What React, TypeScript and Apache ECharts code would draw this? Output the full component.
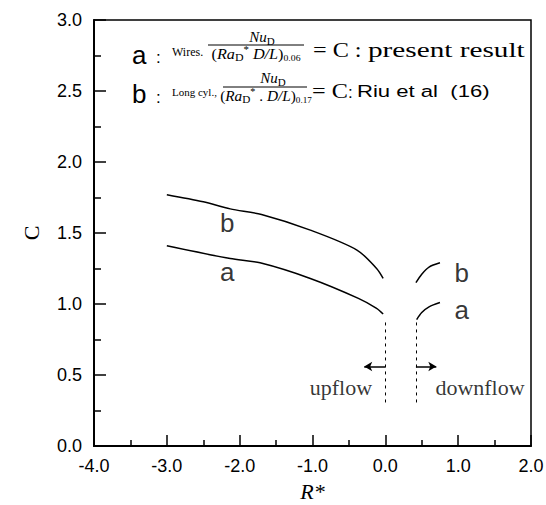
import React, { useEffect, useRef } from 'react';
import * as echarts from 'echarts';

// ---- data ----
const curveAUpflow: number[][] = [[-3.0, 1.41], [-2.13, 1.32], [-1.72, 1.29], [-1.03, 1.18], [-0.37, 1.04], [-0.12, 0.97], [-0.03, 0.93]];
const curveBUpflow: number[][] = [[-3.0, 1.77], [-2.5, 1.72], [-2.13, 1.67], [-1.70, 1.63], [-1.03, 1.52], [-0.39, 1.38], [-0.12, 1.25], [-0.03, 1.18]];
const curveADownflow: number[][] = [[0.43, 0.89], [0.50, 0.94], [0.60, 0.98], [0.75, 1.01]];
const curveBDownflow: number[][] = [[0.42, 1.15], [0.50, 1.21], [0.60, 1.26], [0.75, 1.29]];
const dividerXs: number[] = [0.0, 0.42];
const dividerRange: number[] = [0.30, 0.87];
const arrowY = 0.56;
const arrowUp: number[] = [0.0, -0.29];
const arrowDown: number[] = [0.42, 0.70];
const curveLabels = [
  { name: 'b', value: [-2.17, 1.57] },
  { name: 'a', value: [-2.17, 1.225] },
  { name: 'b', value: [1.05, 1.22] },
  { name: 'a', value: [1.05, 0.96] },
];
const flowLabels = [
  { name: 'upflow', value: [-0.61, 0.41] },
  { name: 'downflow', value: [1.30, 0.41] },
];
const xRange = [-4, 2];
const yRange = [0, 3];

const SANS = '"Liberation Sans", Arial, sans-serif';
const SERIF = '"Liberation Serif", "Times New Roman", serif';

const fracRich = {
  i: { fontFamily: SERIF, fontStyle: 'italic', fontSize: 15, lineHeight: 18, fill: '#000', color: '#000' },
  r: { fontFamily: SERIF, fontSize: 15, lineHeight: 18, fill: '#000', color: '#000' },
  s: { fontFamily: SERIF, fontSize: 11, lineHeight: 10, verticalAlign: 'bottom', fill: '#000', color: '#000' },
  p: { fontFamily: SERIF, fontSize: 10, lineHeight: 10, verticalAlign: 'top', fill: '#000', color: '#000' },
  e: { fontFamily: SERIF, fontSize: 9, lineHeight: 14, verticalAlign: 'bottom', fill: '#000', color: '#000' },
};

function txt(text: string, x: number, y: number, fontSize: number, family: string, extra: any = {}) {
  return {
    type: 'text',
    x,
    y,
    scaleX: extra.scaleX ?? 1,
    silent: true,
    style: {
      text,
      fontSize,
      fontFamily: family,
      fontStyle: extra.fontStyle ?? 'normal',
      fill: '#000',
      align: extra.align ?? 'left',
      textAlign: extra.align ?? 'left',
      verticalAlign: 'middle',
      textVerticalAlign: 'middle',
      rich: extra.rich,
    },
  };
}

export default function App() {
  const ref = useRef<HTMLDivElement>(null);
  useEffect(() => {
    document.body.style.margin = '0';
    if (!ref.current) return;
    const chart = echarts.init(ref.current, null, { renderer: 'svg' });

    const lineStyle = { color: '#000', width: 1.5 };
    const curveSeries = [curveAUpflow, curveBUpflow, curveADownflow, curveBDownflow].map((d) => ({
      type: 'line',
      data: d,
      smooth: 0.3,
      symbol: 'none',
      lineStyle,
      silent: true,
    }));

    const option: any = {
      animation: false,
      backgroundColor: '#fff',
      grid: {
        left: 94,
        right: 15,
        top: 20,
        bottom: 59,
        containLabel: false,
        outerBoundsMode: 'none',
        show: true,
        borderColor: '#000',
        borderWidth: 1.5,
        backgroundColor: 'transparent',
      },
      xAxis: {
        type: 'value',
        min: xRange[0],
        max: xRange[1],
        interval: 1,
        name: 'R*',
        nameLocation: 'middle',
        nameGap: 34,
        nameTextStyle: { fontFamily: SERIF, fontStyle: 'italic', fontSize: 22, color: '#000' },
        axisLine: { show: true, onZero: false, lineStyle: { color: '#000', width: 2 } },
        axisTick: { show: true, inside: true, length: 11, lineStyle: { color: '#000', width: 1.5 } },
        minorTick: { show: true, splitNumber: 2, length: 6, lineStyle: { color: '#000', width: 1.5 } },
        splitLine: { show: false },
        axisLabel: {
          formatter: (v: number) => v.toFixed(1),
          fontFamily: SANS,
          fontSize: 18,
          color: '#000',
          margin: 11,
        },
      },
      yAxis: {
        type: 'value',
        min: yRange[0],
        max: yRange[1],
        interval: 0.5,
        name: 'C',
        nameLocation: 'middle',
        nameRotate: 90,
        nameGap: 52,
        nameTextStyle: { fontFamily: SERIF, fontSize: 22, color: '#000' },
        axisLine: { show: true, onZero: false, lineStyle: { color: '#000', width: 2 } },
        axisTick: { show: true, inside: true, length: 12, lineStyle: { color: '#000', width: 1.5 } },
        minorTick: { show: true, splitNumber: 2, length: 7, lineStyle: { color: '#000', width: 1.5 } },
        splitLine: { show: false },
        axisLabel: {
          formatter: (v: number) => v.toFixed(1),
          fontFamily: SANS,
          fontSize: 18,
          color: '#000',
          margin: 12,
        },
      },
      series: [
        ...curveSeries,
        {
          type: 'line',
          data: [],
          symbol: 'none',
          silent: true,
          markLine: {
            silent: true,
            animation: false,
            label: { show: false },
            symbol: ['none', 'none'],
            lineStyle: { color: '#000', width: 1, type: [3, 4] },
            emphasis: { disabled: true },
            data: dividerXs.map((x) => [
              { coord: [x, dividerRange[1]] },
              { coord: [x, dividerRange[0]] },
            ]),
          },
        },
        {
          type: 'line',
          data: [],
          symbol: 'none',
          silent: true,
          markLine: {
            silent: true,
            animation: false,
            label: { show: false },
            symbol: ['none', 'arrow'],
            symbolSize: [7, 8],
            lineStyle: { color: '#000', width: 1.5, type: 'solid' },
            emphasis: { disabled: true },
            data: [arrowUp, arrowDown].map((a) => [
              { coord: [a[0], arrowY] },
              { coord: [a[1], arrowY] },
            ]),
          },
        },
        {
          type: 'scatter',
          data: curveLabels,
          symbolSize: 0,
          silent: true,
          itemStyle: { color: '#000' },
          label: {
            show: true,
            position: 'inside',
            formatter: (p: any) => p.name,
            fontFamily: SANS,
            fontSize: 26,
            color: '#000',
            textBorderWidth: 0,
          },
        },
        {
          type: 'scatter',
          data: flowLabels,
          symbolSize: 0,
          silent: true,
          itemStyle: { color: '#000' },
          label: {
            show: true,
            position: 'inside',
            formatter: (p: any) => p.name,
            fontFamily: SERIF,
            fontSize: 22,
            color: '#000',
            textBorderWidth: 0,
          },
        },
      ],
      graphic: [
        // line a
        txt('a', 132, 55, 26, SANS),
        txt(':', 156, 57, 17, SANS),
        txt('Wires.', 172, 52, 12, SERIF),
        txt('{i|Nu}{s|D}', 262, 37, 15, SERIF, { align: 'center', rich: fracRich }),
        { type: 'line', silent: true, shape: { x1: 208, y1: 45, x2: 304, y2: 45 }, style: { stroke: '#000', lineWidth: 1 } },
        txt('{r|(}{i|Ra}{s|D}{p|*}{i| D/L}{r|)}{e|0.06}', 256, 54, 15, SERIF, { align: 'center', rich: fracRich, scaleX: 1.08 }),
        txt('= C :', 313, 49, 22, SERIF, { scaleX: 1.1 }),
        txt('present result', 368, 50, 22, SERIF, { scaleX: 1.33 }),
        // line b
        txt('b', 132, 94, 26, SANS),
        txt(':', 156, 97, 17, SANS),
        txt('Long cyl.,', 172, 92, 11, SERIF),
        txt('{i|Nu}{s|D}', 273, 78, 15, SERIF, { align: 'center', rich: fracRich }),
        { type: 'line', silent: true, shape: { x1: 223, y1: 87, x2: 307, y2: 87 }, style: { stroke: '#000', lineWidth: 1 } },
        txt('{r|(}{i|Ra}{s|D}{p|*}{r| . }{i|D/L}{r|)}{e|0.17}', 266, 96, 15, SERIF, { align: 'center', rich: fracRich, scaleX: 1.02 }),
        txt('= C', 312, 90, 22, SERIF, { scaleX: 1.1 }),
        txt(':', 348, 92, 17, SANS),
        txt('Riu et al  (16)', 357, 91, 17, SANS, { scaleX: 1.3 }),
      ],
    };
    chart.setOption(option);
    return () => chart.dispose();
  }, []);
  return <div ref={ref} style={{ width: 546, height: 505 }} />;
}
